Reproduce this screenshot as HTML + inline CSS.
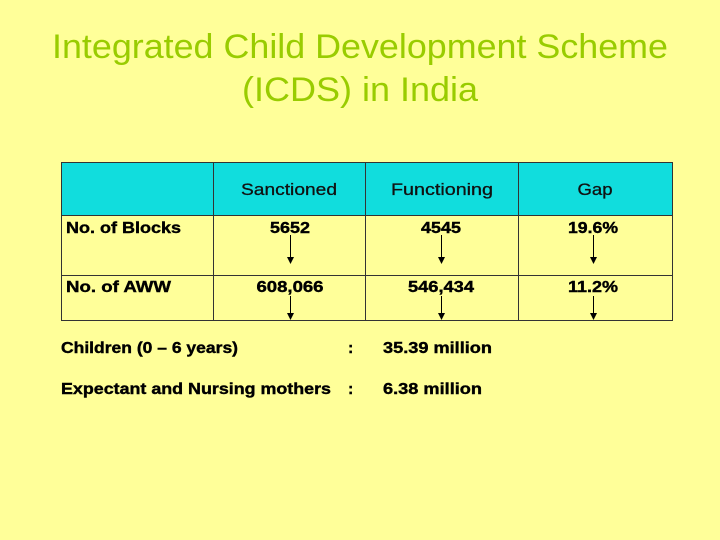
<!DOCTYPE html>
<html><head><meta charset="utf-8"><style>
body{margin:0;width:720px;height:540px;background:#FFFF99;font-family:"Liberation Sans",Arial,sans-serif;position:relative;overflow:hidden}
svg{position:absolute;left:0;top:0}
</style></head><body>
<svg width="720" height="540">
<g font-family="Liberation Sans,Arial,sans-serif" font-size="34" fill="#99CC00" text-anchor="middle">
<text x="360" y="58" textLength="616" lengthAdjust="spacingAndGlyphs">Integrated Child Development Scheme</text>
<text x="360" y="101" textLength="236" lengthAdjust="spacingAndGlyphs">(ICDS) in India</text>
</g>
<rect x="61.5" y="162.5" width="611" height="53" fill="#11DDDD"/>
<g stroke="#333" stroke-width="1" fill="none">
<rect x="61.5" y="162.5" width="611" height="158"/>
<line x1="61" y1="215.5" x2="673" y2="215.5"/>
<line x1="61" y1="275.5" x2="673" y2="275.5"/>
<line x1="213.5" y1="162" x2="213.5" y2="321"/>
<line x1="365.5" y1="162" x2="365.5" y2="321"/>
<line x1="518.5" y1="162" x2="518.5" y2="321"/>
</g>
<g stroke="#000" stroke-width="1">
<line x1="290.5" y1="235" x2="290.5" y2="258"/><line x1="441.5" y1="235" x2="441.5" y2="258"/><line x1="593.5" y1="235" x2="593.5" y2="258"/>
<line x1="290.5" y1="296" x2="290.5" y2="314"/><line x1="441.5" y1="296" x2="441.5" y2="314"/><line x1="593.5" y1="296" x2="593.5" y2="314"/>
</g>
<g fill="#000">
<polygon points="287,257 294,257 290.5,264"/><polygon points="438,257 445,257 441.5,264"/><polygon points="590,257 597,257 593.5,264"/>
<polygon points="287,313 294,313 290.5,320"/><polygon points="438,313 445,313 441.5,320"/><polygon points="590,313 597,313 593.5,320"/>
</g>
<g font-family="Liberation Sans,Arial,sans-serif" font-size="17" text-anchor="middle" fill="#111" stroke="#111" stroke-width="0.3">
<text x="289" y="195" textLength="96" lengthAdjust="spacingAndGlyphs">Sanctioned</text>
<text x="442" y="195" textLength="102" lengthAdjust="spacingAndGlyphs">Functioning</text>
<text x="595" y="195" textLength="35" lengthAdjust="spacingAndGlyphs">Gap</text>
</g>
<g font-family="Liberation Sans,Arial,sans-serif" font-size="16" font-weight="bold" fill="#000" stroke="#000" stroke-width="0.4" lengthAdjust="spacingAndGlyphs">
<text x="66" y="233" textLength="115" lengthAdjust="spacingAndGlyphs">No. of Blocks</text>
<text x="66" y="292" textLength="105" lengthAdjust="spacingAndGlyphs">No. of AWW</text>
<g text-anchor="middle">
<text x="290" y="233" textLength="40" lengthAdjust="spacingAndGlyphs">5652</text>
<text x="441" y="233" textLength="40" lengthAdjust="spacingAndGlyphs">4545</text>
<text x="593" y="233" textLength="50" lengthAdjust="spacingAndGlyphs">19.6%</text>
<text x="290" y="292" textLength="67" lengthAdjust="spacingAndGlyphs">608,066</text>
<text x="441" y="292" textLength="66" lengthAdjust="spacingAndGlyphs">546,434</text>
<text x="593" y="292" textLength="50" lengthAdjust="spacingAndGlyphs">11.2%</text>
</g>
<text x="61" y="353" textLength="177" lengthAdjust="spacingAndGlyphs">Children (0 – 6 years)</text><text x="348" y="353">:</text>
<text x="383" y="353" textLength="109" lengthAdjust="spacingAndGlyphs">35.39 million</text>
<text x="61" y="394" textLength="270" lengthAdjust="spacingAndGlyphs">Expectant and Nursing mothers</text><text x="348" y="394">:</text>
<text x="383" y="394" textLength="99" lengthAdjust="spacingAndGlyphs">6.38 million</text>
</g>
</svg>
</body></html>
